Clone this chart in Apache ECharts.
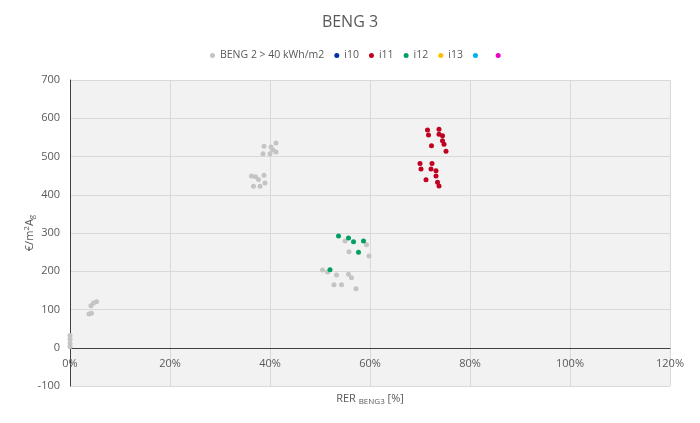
<!DOCTYPE html>
<html>
<head>
<meta charset="utf-8">
<title>BENG 3</title>
<script src="https://cdn.jsdelivr.net/npm/echarts@6/dist/echarts.min.js"></script>
<style>
  html, body { margin: 0; padding: 0; background: #fff; }
  #main { width: 700px; height: 423px; }
</style>
</head>
<body>
<div id="main"></div>
<script>
// legend names (last two series have no name in the original)
const seriesNames = ["BENG 2 > 40 kWh/m2", "i10", "i11", "i12", "i13", " ", "  "]
const seriesColors = ["#c4c4c4", "#002fa7", "#c00020", "#00a060", "#ffc000", "#00b0f0", "#f000c0"]

// RER BENG3 [%] and €/m2Ag
const grayX = [0, 0, 0, 0, 3.8, 4.3, 4.2, 4.7, 5.3,
  36.3, 37.1, 37.7, 38.8, 39.0, 38.0, 36.7,
  38.8, 40.2, 41.2, 40.6, 41.2, 40.0, 38.6,
  50.5, 51.5, 53.3, 55.7, 56.3, 52.8, 54.3, 57.2, 55.0, 59.3, 55.8, 59.8]
const grayY = [32, 22, 12, 3, 88, 90, 110, 117, 120,
  449, 447, 440, 451, 431, 422, 422,
  527, 525, 535, 517, 512, 507, 507,
  203, 198, 190, 192, 183, 165, 165, 154, 279, 269, 251, 240]

const i11X = [71.5, 73.8, 71.7, 73.8, 74.5, 74.5, 74.8, 72.3, 75.2,
  70.0, 72.4, 70.2, 72.2, 73.2, 73.2, 71.2, 73.5, 73.8]
const i11Y = [569, 571, 556, 558, 554, 541, 532, 528, 514,
  482, 482, 467, 467, 463, 449, 439, 433, 423]

const i12X = [53.7, 55.7, 56.7, 58.7, 57.7, 52.0]
const i12Y = [292, 287, 277, 279, 250, 204]

const xTicks = [0, 20, 40, 60, 80, 100, 120]
const yTicks = [-100, 0, 100, 200, 300, 400, 500, 600, 700]

function pairs (xs, ys) {
  return xs.map((x, i) => [x, ys[i]])
}

const seriesData = [pairs(grayX, grayY), [], pairs(i11X, i11Y), pairs(i12X, i12Y), [], [], []]

const txt = "#595959"
const font = "Open Sans"

// grid height split in equal steps, the x axis sits on the 0 line one step above the bottom
const gridTop = 80
const gridBottom = 37
const stepPx = (423 - gridTop - gridBottom) / (yTicks.length - 1)

let myChart = echarts.init(document.getElementById("main"))
let option = {
  backgroundColor: "#fff",
  animation: false,
  textStyle: { fontFamily: font },
  title: {
    text: "BENG 3",
    left: "center",
    top: 9,
    textStyle: { fontFamily: font, fontSize: 16, fontWeight: "normal", color: txt }
  },
  legend: {
    top: 45,
    left: 205,
    icon: "circle",
    itemWidth: 5,
    itemHeight: 5,
    itemGap: 10,
    data: seriesNames,
    textStyle: { fontFamily: font, fontSize: 10.5, color: txt }
  },
  grid: {
    left: 70,
    right: 30,
    top: gridTop,
    bottom: gridBottom,
    outerBoundsMode: "none",
    containLabel: false,
    show: true,
    backgroundColor: "#f2f2f2",
    borderWidth: 0
  },
  xAxis: {
    type: "value",
    min: xTicks[0],
    max: xTicks[xTicks.length - 1],
    interval: 20,
    offset: -stepPx,
    name: "{a|RER }{b|BENG3}{a| [%]}",
    nameLocation: "middle",
    nameGap: 44,
    nameTextStyle: {
      rich: {
        a: { fontFamily: font, fontSize: 11, color: txt },
        b: { fontFamily: font, fontSize: 8, color: txt, padding: [6, 0, 0, 0] }
      }
    },
    axisLine: { onZero: false, lineStyle: { color: "#404040", width: 1 } },
    axisTick: { show: false },
    axisLabel: { color: txt, fontSize: 11, fontFamily: font, margin: 11, formatter: "{value}%" },
    splitLine: { lineStyle: { color: "#d9d9d9" } }
  },
  yAxis: {
    type: "value",
    min: yTicks[0],
    max: yTicks[yTicks.length - 1],
    interval: 100,
    name: "{a|€/m}{s|2}{a|A}{b|g}",
    nameLocation: "middle",
    nameRotate: 90,
    nameGap: 34,
    nameMoveOverlap: false,
    nameTextStyle: {
      rich: {
        a: { fontFamily: font, fontSize: 11, color: txt },
        s: { fontFamily: font, fontSize: 8, color: txt, padding: [0, 0, 5, 0] },
        b: { fontFamily: font, fontSize: 8, color: txt, padding: [5, 0, 0, 0] }
      }
    },
    axisLine: { show: true, lineStyle: { color: "#404040", width: 1 } },
    axisTick: { show: false },
    axisLabel: { color: txt, fontSize: 11, fontFamily: font, margin: 10 },
    splitLine: { lineStyle: { color: "#d9d9d9" } }
  },
  series: seriesNames.map((name, i) => ({
    name: name,
    type: "scatter",
    symbol: "circle",
    symbolSize: 5,
    itemStyle: { color: seriesColors[i], opacity: 1 },
    data: seriesData[i]
  }))
}
myChart.setOption(option)
</script>
</body>
</html>
